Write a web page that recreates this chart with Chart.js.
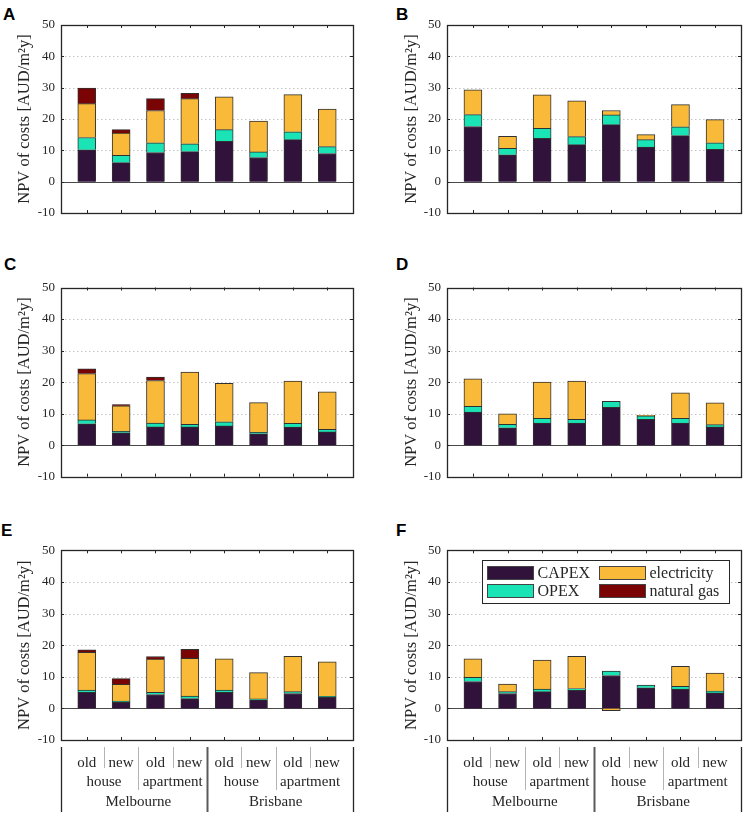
<!DOCTYPE html>
<html>
<head>
<meta charset="utf-8">
<title>NPV of costs</title>
<script src="https://cdn.jsdelivr.net/npm/chart.js@4.4.1/dist/chart.umd.min.js"></script>
<style>
  body { margin: 0; background: #fff; }
  #fig { position: relative; width: 748px; height: 820px; }
  .panel { position: absolute; }
  .letter { position: absolute; font: bold 17px "Liberation Sans", Arial, sans-serif; line-height: 17px; color: #000; }
</style>
</head>
<body>
<div id="fig">
  <div class="letter" style="left:3px;top:6px">A</div>
  <div class="letter" style="left:396px;top:6px">B</div>
  <div class="letter" style="left:4px;top:256px">C</div>
  <div class="letter" style="left:396px;top:256px">D</div>
  <div class="letter" style="left:1px;top:522px">E</div>
  <div class="letter" style="left:396px;top:522px">F</div>

  <div class="panel" style="left:0;top:0"><canvas id="chartA" width="374" height="250"></canvas></div>
  <div class="panel" style="left:374px;top:0"><canvas id="chartB" width="374" height="250"></canvas></div>
  <div class="panel" style="left:0;top:260px"><canvas id="chartC" width="374" height="250"></canvas></div>
  <div class="panel" style="left:374px;top:260px"><canvas id="chartD" width="374" height="250"></canvas></div>
  <div class="panel" style="left:0;top:520px"><canvas id="chartE" width="374" height="300"></canvas></div>
  <div class="panel" style="left:374px;top:520px"><canvas id="chartF" width="374" height="300"></canvas></div>
</div>

<script>
  // categories (bars left to right)
  const ageLabels = ['old', 'new', 'old', 'new', 'old', 'new', 'old', 'new'];
  const typeLabels = ['house', 'apartment', 'house', 'apartment'];
  const cityLabels = ['Melbourne', 'Brisbane'];

  const seriesNames = ['CAPEX', 'OPEX', 'electricity', 'natural gas'];
  const seriesColors = ['#30123b', '#1ae4b6', '#faba39', '#7a0403'];

  const yMin = -10, yMax = 50, yStep = 10;
  const yTitle = 'NPV of costs [AUD/m²y]';

  // panel A
  const capexA = [10.2, 6.1, 9.3, 9.6, 12.9, 7.7, 13.4, 9.0];
  const opexA  = [3.9, 2.3, 3.1, 2.5, 3.7, 1.8, 2.5, 2.2];
  const elecA  = [10.8, 7.1, 10.3, 14.4, 10.5, 9.8, 11.9, 12.0];
  const gasA   = [5.0, 1.1, 3.8, 1.7, 0, 0, 0, 0];

  // panel B
  const capexB = [17.6, 8.6, 13.8, 11.8, 18.2, 11.0, 14.7, 10.3];
  const opexB  = [3.8, 2.0, 3.2, 2.6, 3.1, 2.4, 2.8, 2.1];
  const elecB  = [7.9, 3.9, 10.7, 11.4, 1.4, 1.6, 7.1, 7.4];
  const gasB   = [0, 0, 0, 0, 0, 0, 0, 0];

  // panel C
  const capexC = [6.8, 3.9, 5.8, 5.8, 6.1, 3.6, 5.7, 4.2];
  const opexC  = [1.2, 0.5, 1.2, 0.8, 1.3, 0.5, 1.2, 0.8];
  const elecC  = [14.7, 8.1, 13.5, 16.6, 12.2, 9.4, 13.4, 11.9];
  const gasC   = [1.5, 0.4, 1.1, 0, 0, 0, 0, 0];

  // panel D
  const capexD = [10.5, 5.5, 7.0, 7.0, 12.0, 8.2, 7.0, 5.8];
  const opexD  = [1.8, 1.1, 1.5, 1.2, 1.9, 1.1, 1.5, 0.7];
  const elecD  = [8.7, 3.3, 11.5, 12.1, 0, 0.2, 8.1, 6.9];
  const gasD   = [0, 0, 0, 0, 0, 0, 0, 0];

  // panel E
  const capexE = [5.1, 1.9, 4.4, 3.1, 5.1, 2.7, 4.7, 3.5];
  const opexE  = [0.7, 0.4, 0.7, 0.8, 0.7, 0.3, 0.6, 0.3];
  const elecE  = [11.9, 5.3, 10.5, 11.9, 9.9, 8.3, 11.2, 10.9];
  const gasE   = [0.8, 1.8, 0.8, 2.9, 0, 0, 0, 0];

  // panel F
  const capexF = [8.5, 4.7, 5.3, 5.7, 10.4, 6.5, 6.1, 4.9];
  const opexF  = [1.3, 0.6, 0.8, 0.6, 1.4, 0.9, 0.9, 0.6];
  const elecF  = [5.9, 2.4, 9.2, 10.2, -0.7, 0, 6.3, 5.7];
  const gasF   = [0, 0, 0, 0, 0, 0, 0, 0];

  const serif = '"Liberation Serif", "Times New Roman", serif';
  const ink = '#262626';

  function line(ctx, x1, y1, x2, y2) {
    ctx.beginPath();
    ctx.moveTo(x1, y1);
    ctx.lineTo(x2, y2);
    ctx.stroke();
  }

  // matlab style box, dotted grid and inward ticks
  const matlabAxes = {
    id: 'matlabAxes',
    beforeDatasetsDraw(chart) {
      const { ctx, chartArea: a, scales: { y } } = chart;
      ctx.save();
      ctx.lineWidth = 1;
      ctx.strokeStyle = '#c4c4c4';
      ctx.setLineDash([1.5, 2.5]);
      for (let v = yMin + yStep; v < yMax; v += yStep) {
        if (v === 0) continue;
        const py = Math.round(y.getPixelForValue(v)) + 0.5;
        line(ctx, a.left, py, a.right, py);
      }
      ctx.setLineDash([]);
      ctx.strokeStyle = '#4a4a4a';
      const zy = Math.round(y.getPixelForValue(0)) + 0.5;
      line(ctx, a.left, zy, a.right, zy);
      ctx.restore();
    },
    afterDatasetsDraw(chart) {
      const { ctx, chartArea: a, scales: { x, y } } = chart;
      ctx.save();
      ctx.strokeStyle = ink;
      ctx.lineWidth = 1;
      for (let i = 0; i < ageLabels.length; i++) {
        const px = Math.round(x.getPixelForValue(i + 1)) + 0.5;
        line(ctx, px, a.bottom, px, a.bottom - 3);
        line(ctx, px, a.top, px, a.top + 3);
      }
      for (let v = yMin; v <= yMax; v += yStep) {
        const py = Math.round(y.getPixelForValue(v)) + 0.5;
        line(ctx, a.left, py, a.left + 3, py);
        line(ctx, a.right, py, a.right - 3, py);
      }
      ctx.lineWidth = 1.3;
      ctx.strokeRect(Math.round(a.left) + 0.5, Math.round(a.top) + 0.5,
        Math.round(a.right - a.left), Math.round(a.bottom - a.top));
      ctx.restore();
    },
    afterDraw(chart, args, opts) {
      const { ctx, chartArea: a, scales: { x } } = chart;
      ctx.save();
      if (opts.groups) {
        const b = a.bottom;
        const vx = v => Math.round(x.getPixelForValue(v)) + 0.5;
        ctx.lineWidth = 1;
        ctx.strokeStyle = '#b4b4b4';
        [1.5, 3.5, 5.5, 7.5].forEach(v => line(ctx, vx(v), b + 7, vx(v), b + 28));
        [2.5, 6.5].forEach(v => line(ctx, vx(v), b + 7, vx(v), b + 50));
        ctx.strokeStyle = '#5a5a5a';
        ctx.lineWidth = 2;
        line(ctx, vx(4.5), b + 7, vx(4.5), b + 72);
        ctx.strokeStyle = ink;
        ctx.lineWidth = 1.3;
        line(ctx, Math.round(a.left) + 0.5, b + 7, Math.round(a.left) + 0.5, b + 72);
        line(ctx, Math.round(a.right) + 0.5, b + 7, Math.round(a.right) + 0.5, b + 72);

        ctx.fillStyle = ink;
        ctx.font = '15px ' + serif;
        ctx.textAlign = 'center';
        ctx.textBaseline = 'middle';
        ageLabels.forEach((t, i) => ctx.fillText(t, x.getPixelForValue(i + 1), b + 23));
        typeLabels.forEach((t, j) => ctx.fillText(t, x.getPixelForValue(2 * j + 1.5), b + 42));
        cityLabels.forEach((t, k) => ctx.fillText(t, x.getPixelForValue(4 * k + 2.5), b + 62));
      }
      if (opts.legend) {
        const bx = Math.round(a.left) + 35.5, by = Math.round(a.top) + 10.5;
        ctx.fillStyle = '#fff';
        ctx.fillRect(bx, by, 247, 43);
        ctx.strokeStyle = ink;
        ctx.lineWidth = 1;
        ctx.strokeRect(bx, by, 247, 43);
        ctx.font = '16px ' + serif;
        ctx.textAlign = 'left';
        ctx.textBaseline = 'middle';
        chart.data.datasets.forEach((ds, i) => {
          const col = Math.floor(i / 2), row = i % 2;
          const sx = bx + 5 + col * 112, sy = by + 6 + row * 18;
          ctx.fillStyle = ds.backgroundColor;
          ctx.fillRect(sx, sy, 46, 13);
          ctx.strokeStyle = '#444';
          ctx.strokeRect(sx, sy, 46, 13);
          ctx.fillStyle = ink;
          ctx.fillText(ds.label, sx + 50, sy + 7);
        });
      }
      ctx.restore();
    }
  };

  function makeChart(id, series, frame) {
    const datasets = series.map((vals, s) => ({
      label: seriesNames[s],
      data: vals.map((v, i) => ({ x: i + 1, y: v })),
      backgroundColor: seriesColors[s],
      borderColor: '#303030',
      borderWidth: 1,
      barThickness: 18
    }));
    return new Chart(document.getElementById(id), {
      type: 'bar',
      data: { datasets },
      plugins: [matlabAxes],
      options: {
        responsive: false,
        animation: false,
        layout: { padding: { left: 0, top: frame.top, right: frame.right, bottom: frame.bottom } },
        plugins: {
          legend: { display: false },
          tooltip: { enabled: false },
          matlabAxes: { groups: frame.groups, legend: frame.legend }
        },
        scales: {
          x: {
            type: 'linear', min: 0.25, max: 8.75, offset: false,
            display: false, stacked: true
          },
          y: {
            stacked: true, min: yMin, max: yMax,
            grid: { display: false, drawTicks: false },
            border: { display: false },
            ticks: { stepSize: yStep, padding: 6, color: ink, font: { family: serif, size: 13 } },
            title: {
              display: true, text: yTitle, color: ink,
              font: { family: serif, size: 16.5 },
              padding: { top: frame.titlePad, bottom: 0 }
            },
            afterFit(scale) { scale.width = frame.axisWidth; }
          }
        }
      }
    });
  }

  const leftCol = { axisWidth: 61, right: 21, titlePad: 15 };
  const rightCol = { axisWidth: 73, right: 7, titlePad: 28 };

  makeChart('chartA', [capexA, opexA, elecA, gasA], { ...leftCol, top: 25, bottom: 37 });
  makeChart('chartB', [capexB, opexB, elecB, gasB], { ...rightCol, top: 25, bottom: 37 });
  makeChart('chartC', [capexC, opexC, elecC, gasC], { ...leftCol, top: 27.5, bottom: 33.3 });
  makeChart('chartD', [capexD, opexD, elecD, gasD], { ...rightCol, top: 27.5, bottom: 33.3 });
  makeChart('chartE', [capexE, opexE, elecE, gasE], { ...leftCol, top: 30.3, bottom: 80, groups: true });
  makeChart('chartF', [capexF, opexF, elecF, gasF], { ...rightCol, top: 30.3, bottom: 80, groups: true, legend: true });
</script>
</body>
</html>
